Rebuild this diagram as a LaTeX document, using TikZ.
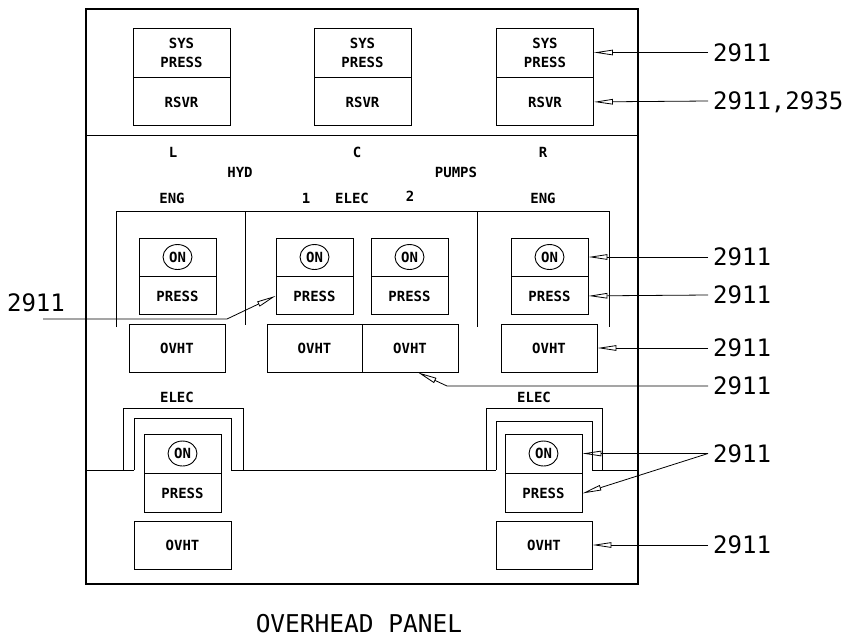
\documentclass[tikz,border=0pt]{standalone}
\usepackage{fontspec}
\setmonofont{DejaVu Sans Mono}
\usetikzlibrary{positioning,arrows.meta,shapes.geometric}
\newcommand{\lampfont}{\ttfamily\bfseries\fontsize{14}{19}\selectfont}
\newcommand{\calloutfont}{\ttfamily\fontsize{24}{28}\selectfont}
\tikzset{
  panelline/.style={line width=2.8pt},
  frameline/.style={line width=0.9pt},
  cell/.style={draw,line width=0.9pt,fill=white,inner sep=0pt,align=center,
    font=\lampfont,minimum width=97pt},
  lampcell/.style={cell,minimum width=77pt,minimum height=38pt},
  ovhtcell/.style={cell,minimum width=96pt,minimum height=48pt},
  onring/.style={draw,ellipse,line width=0.9pt,inner sep=0pt,
    minimum width=29pt,minimum height=25pt,font=\lampfont},
  paneltag/.style={font=\lampfont,inner sep=0pt},
  refnum/.style={font=\calloutfont,anchor=west,inner sep=0pt,inner xsep=5pt,
    text depth=0pt},
  callout/.style={line width=0.8pt,-{Triangle[open,length=19pt,width=5.5pt]}}
}
\begin{document}
\begin{tikzpicture}[x=1pt,y=-1pt]
  \useasboundingbox[fill=white] (0,0) rectangle (849,638);
  \draw[panelline] (86,9) rectangle (638,584);
  \draw[frameline] (86,135) -- (638,135);
  \foreach \n/\x in {L/181.5,C/362.5,R/545}{
    \node[cell,minimum height=49pt] (sys\n) at (\x,52.5) {SYS\\PRESS};
    \node[cell,minimum height=48pt,below=0pt of sys\n] (rsvr\n) {RSVR};
  }
  \node[paneltag] (tagL) at (173,152) {L};
  \node[paneltag] (tagC) at (357,152) {C};
  \node[paneltag] (tagR) at (543,152) {R};
  \node[paneltag] (tagHyd) at (240,172) {HYD};
  \node[paneltag] (tagPumps) at (456,172) {PUMPS};
  \node[paneltag] (tagEngL) at (172,198) {ENG};
  \node[paneltag] (tagOne) at (306,198) {1};
  \node[paneltag] (tagElec) at (352,198) {ELEC};
  \node[paneltag] (tagTwo) at (410,196) {2};
  \node[paneltag] (tagEngR) at (543,198) {ENG};
  \draw[frameline] (116,327) -- (116,211) -- (609,211) -- (609,327);
  \draw[frameline] (245,211) -- (245,325);
  \draw[frameline] (477,211) -- (477,327);
  \foreach \n/\x in {L/177.5,A/314.5,B/409.5,R/549.5}{
    \node[lampcell] (on\n) at (\x,257) {};
    \node[onring] (ring\n) at (on\n) {ON};
    \node[lampcell,below=0pt of on\n] (press\n) {PRESS};
  }
  \node[ovhtcell] (ovhtL) at (177,348) {OVHT};
  \node[ovhtcell,minimum width=95pt] (ovhtA) at (314.5,348) {OVHT};
  \node[ovhtcell] (ovhtB) at (410,348) {OVHT};
  \node[ovhtcell] (ovhtR) at (549,348) {OVHT};
  \draw[frameline] (86,470) -- (134,470) (231,470) -- (496,470) (592,470) -- (638,470);
  \draw[frameline] (123,470) -- (123,408) -- (243,408) -- (243,470);
  \draw[frameline] (134,470) -- (134,418) -- (231,418) -- (231,470);
  \draw[frameline] (486,470) -- (486,408) -- (602,408) -- (602,470);
  \draw[frameline] (496,470) -- (496,421) -- (592,421) -- (592,470);
  \node[paneltag] (tagElecL) at (177,397) {ELEC};
  \node[paneltag] (tagElecR) at (534,397) {ELEC};
  \foreach \n/\x in {BL/182.5,BR/543.5}{
    \node[lampcell,minimum height=39pt] (on\n) at (\x,453.5) {};
    \node[onring] (ring\n) at (on\n) {ON};
    \node[lampcell,minimum height=39pt,below=0pt of on\n] (press\n) {PRESS};
  }
  \node[ovhtcell,minimum width=97pt] (ovhtBL) at (182.5,545) {OVHT};
  \node[ovhtcell] (ovhtBR) at (544,545) {OVHT};
  \node[refnum] (refSys) at (708,52.5) {2911};
  \node[refnum] (refRsvr) at (708,101) {2911,2935};
  \node[refnum] (refOn) at (708,257) {2911};
  \node[refnum] (refPress) at (708,295) {2911};
  \node[refnum] (refOvht) at (708,348) {2911};
  \node[refnum] (refPump) at (708,386) {2911};
  \node[refnum] (refElec) at (708,453.5) {2911};
  \node[refnum] (refElecOvht) at (708,545) {2911};
  \node[font=\calloutfont,inner sep=0pt] (refLeft) at (36,303) {2911};
  \coordinate (leftEnd) at (43,319);
  \coordinate (leftBend) at (227,319);
  \coordinate (pumpBend) at (447,386);
  \draw[callout] (refSys.west) -- (sysR.east);
  \draw[callout] (refRsvr.west) -- (rsvrR.east);
  \draw[callout] (refOn.west) -- (onR.east);
  \draw[callout] (refPress.west) -- (pressR.east);
  \draw[callout] (refOvht.west) -- (ovhtR.east);
  \draw[callout] (refPump.west) -- (pumpBend) -- ([xshift=8pt]ovhtB.south);
  \draw[callout] (refElec.west) -- (onBR.east);
  \draw[callout] (refElec.west) -- (pressBR.east);
  \draw[callout] (refElecOvht.west) -- (ovhtBR.east);
  \draw[callout] (leftEnd) -- (leftBend) -- (pressA.west);
  \node[font=\ttfamily\fontsize{24.5}{28}\selectfont,inner sep=0pt] (title) at (359,624) {OVERHEAD PANEL};
\end{tikzpicture}
\end{document}
